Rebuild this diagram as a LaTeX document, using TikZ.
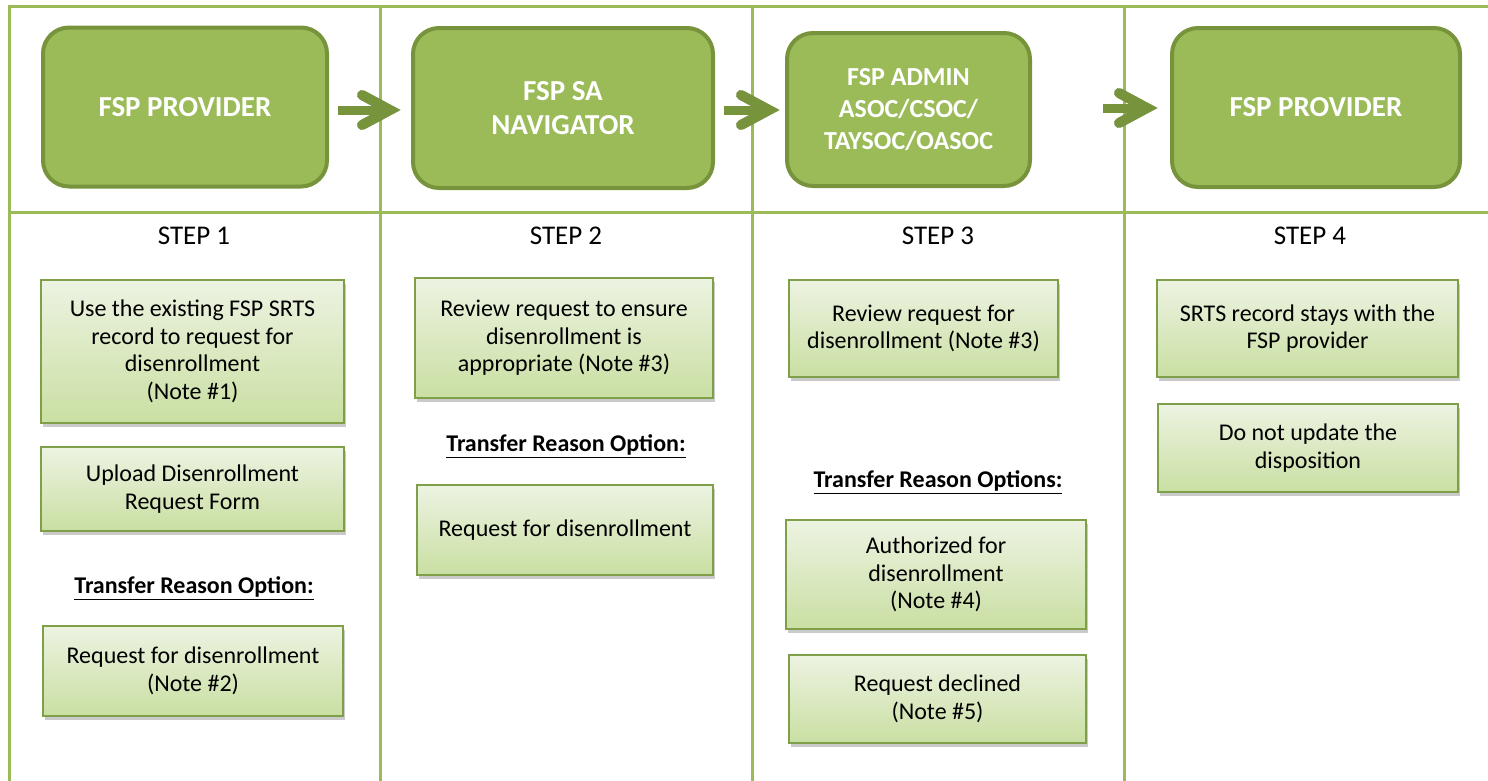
\documentclass[tikz,border=0pt]{standalone}
\usepackage{fontspec}
\setmainfont{Carlito}
\usetikzlibrary{shadows,calc}
\definecolor{tline}{HTML}{9BBB59}
\definecolor{hfill}{HTML}{9BBB59}
\definecolor{hborder}{HTML}{77933C}
\definecolor{bborder}{HTML}{7F9F48}
\definecolor{btop}{HTML}{EDF3E2}
\definecolor{bbot}{HTML}{C9DFA2}
\tikzset{
  header/.style={draw=hborder, line width=4pt, fill=hfill, rounded corners=26pt, text=white,
    font=\bfseries\fontsize{29}{34}\selectfont, align=center, inner sep=0pt},
  stepbox/.style={draw=bborder, line width=1.6pt, top color=btop, bottom color=bbot,
    drop shadow={shadow xshift=2pt, shadow yshift=-4pt, opacity=0.35, fill=black!60},
    font=\fontsize{24}{27.5}\selectfont, align=center, inner sep=0pt},
  steplabel/.style={font=\fontsize{27}{30}\selectfont, inner sep=0pt},
  optlabel/.style={font=\bfseries\fontsize{24}{28}\selectfont, inner sep=0pt},
  shaft/.style={draw=hborder, line width=9pt},
  chevron/.style={draw=hborder, line width=10pt, line cap=round, line join=miter},
  arrowshadow/.style={draw=black, opacity=0.2},
  grid/.style={draw=tline, line width=3pt}
}
\newcommand{\ul}[1]{\underline{#1}}
\begin{document}
\begin{tikzpicture}[x=1pt,y=-1pt]
\useasboundingbox (0,0) rectangle (1488,780);
% table lines
\draw[grid] (9,790) -- (9,6) -- (1492,6);
\draw[grid] (9,212) -- (1492,212);
\foreach \xx in {380,752,1124}{\draw[grid] (\xx,6) -- (\xx,790);}
% header boxes
\node[header, minimum width=284pt, minimum height=159pt] (h1) at (185,107) {FSP PROVIDER};
\node[header, minimum width=300pt, minimum height=160pt] (h2) at (563,108) {FSP SA\\NAVIGATOR};
\node[header, minimum width=243pt, minimum height=153pt, font=\bfseries\fontsize{26}{32}\selectfont] (h3) at (908.5,109.5) {FSP ADMIN\\ASOC/CSOC/\\TAYSOC/OASOC};
\node[header, minimum width=288pt, minimum height=159pt] (h4) at (1316,107.5) {FSP PROVIDER};
% arrows
\foreach \b/\st/\tp/\yy in {h2/73/10/110,h3/61/5/110,h4/67/12/108}{
  \coordinate (s\b) at ([xshift=-\st pt]\b.west |- 0,\yy);
  \coordinate (t\b) at ([xshift=-\tp pt]\b.west |- 0,\yy);
  \begin{scope}[shift={(2,4)}]
    \draw[shaft, arrowshadow] (s\b) -- ($(t\b)+(-10,0)$);
    \draw[chevron, arrowshadow] ($(t\b)+(-39,-15)$) -- ($(t\b)+(-11,0)$) -- ($(t\b)+(-39,15)$);
  \end{scope}
  \draw[shaft] (s\b) -- ($(t\b)+(-10,0)$);
  \draw[chevron] ($(t\b)+(-39,-15)$) -- ($(t\b)+(-11,0)$) -- ($(t\b)+(-39,15)$);
}
% step labels
\node[steplabel] (s1) at (194,236) {STEP 1};
\node[steplabel] (s2) at (566,236) {STEP 2};
\node[steplabel] (s3) at (938,236) {STEP 3};
\node[steplabel] (s4) at (1310,236) {STEP 4};
% column 1
\node[stepbox, minimum width=303pt, minimum height=143pt] (a1) at (192.5,351.5) {Use the existing FSP SRTS\\record to request for\\disenrollment\\(Note \#1)};
\node[stepbox, minimum width=303pt, minimum height=84pt] (a2) at (192.5,489) {Upload Disenrollment\\Request Form};
\node[optlabel] (o1) at (194,588) {\ul{Transfer Reason Option:}};
\node[stepbox, minimum width=300pt, minimum height=90pt] (a3) at (193,671) {Request for disenrollment\\(Note \#2)};
% column 2
\node[stepbox, minimum width=298pt, minimum height=120pt] (b1) at (564,338) {Review request to ensure\\disenrollment is\\appropriate (Note \#3)};
\node[optlabel] (o2) at (566,446) {\ul{Transfer Reason Option:}};
\node[stepbox, minimum width=296pt, minimum height=90pt] (b2) at (565,530) {Request for disenrollment};
% column 3
\node[stepbox, minimum width=269pt, minimum height=97pt] (c1) at (923.5,328.5) {Review request for\\disenrollment (Note \#3)};
\node[optlabel] (o3) at (938,482) {\ul{Transfer Reason Options:}};
\node[stepbox, minimum width=300pt, minimum height=109pt] (c2) at (936,574.5) {Authorized for\\disenrollment\\(Note \#4)};
\node[stepbox, minimum width=297pt, minimum height=88pt] (c3) at (937.5,699) {Request declined\\(Note \#5)};
% column 4
\node[stepbox, minimum width=301pt, minimum height=97pt] (d1) at (1307.5,328.5) {SRTS record stays with the\\FSP provider};
\node[stepbox, minimum width=300pt, minimum height=88pt] (d2) at (1308,448) {Do not update the\\disposition};
\end{tikzpicture}
\end{document}
